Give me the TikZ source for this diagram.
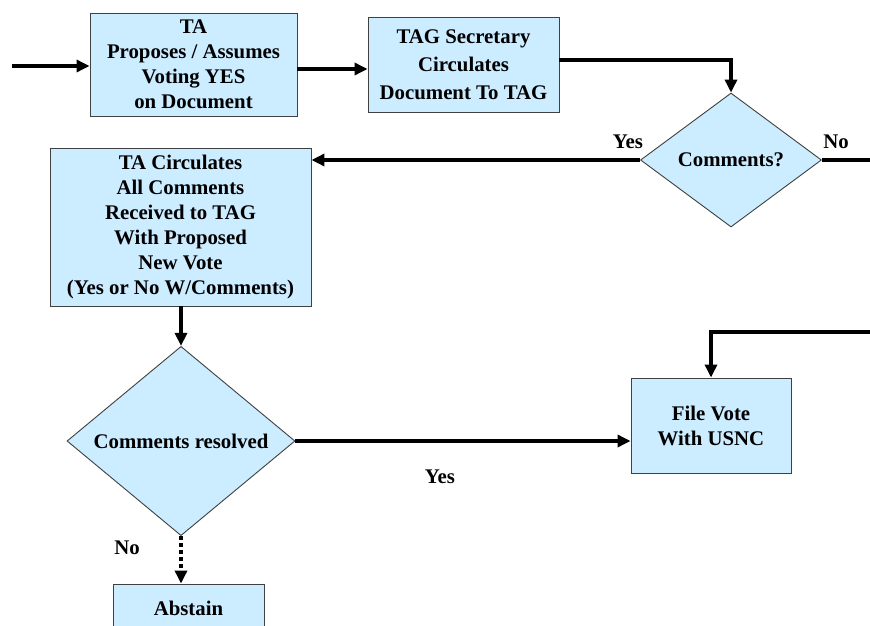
\documentclass[tikz,border=0pt]{standalone}
\usepackage{fontspec}
\setmainfont{Liberation Serif}
\usetikzlibrary{arrows.meta,shapes.geometric,calc}
\definecolor{boxfill}{HTML}{CCECFF}
\definecolor{boxline}{HTML}{404040}
\tikzset{
  flowbox/.style={draw=boxline, line width=0.9pt, fill=boxfill, align=center,
    inner sep=0pt, font=\fontsize{20.8}{25}\selectfont\bfseries},
  decision/.style={diamond, draw=boxline, line width=0.9pt, fill=boxfill, align=center,
    inner sep=0pt, font=\fontsize{20.8}{25}\selectfont\bfseries},
  lbl/.style={inner sep=0pt, font=\fontsize{20.8}{25}\selectfont\bfseries},
  flow/.style={line width=4pt, -{Triangle[length=13pt,width=12pt]}},
  plain/.style={line width=4pt},
  dotflow/.style={line width=4pt, dash pattern=on 4pt off 3pt, -{Triangle[length=13pt,width=12pt]}}
}
\begin{document}
\begin{tikzpicture}[x=1pt,y=-1pt]
\useasboundingbox (0,0) rectangle (870,626);
\clip (0,0) rectangle (870,626);
\fill[white] (0,0) rectangle (870,626);

\node[flowbox, minimum width=207pt, minimum height=103pt] (b1) at (193.5,64.5)
  {TA\\Proposes / Assumes\\Voting YES\\on Document};
\node[flowbox, minimum width=191pt, minimum height=95pt,
  font=\fontsize{20.8}{28.2}\selectfont\bfseries] (b2) at (463.5,64.5)
  {TAG Secretary\\Circulates\\Document To TAG};
\node[decision, minimum width=181pt, minimum height=134pt] (d1) at (731,160) {Comments?};
\node[flowbox, minimum width=261pt, minimum height=158pt] (b3) at (180.5,227)
  {TA Circulates\\All Comments\\Received to TAG\\With Proposed\\New Vote\\(Yes or No W/Comments)};
\node[decision, minimum width=228pt, minimum height=172pt] (d2) at (181,441) {Comments resolved};
\node[flowbox, minimum width=160pt, minimum height=95pt] (b4) at (711,425.5)
  {File Vote\\With USNC};
\node[flowbox, minimum width=151pt, minimum height=48pt] (b5) at (188.5,608) {Abstain};

\node[lbl] (y1) at (628,142) {Yes};
\node[lbl] (n1) at (836,142) {No};
\node[lbl] (y2) at (440,477) {Yes};
\node[lbl] (n2) at (127,548) {No};

\coordinate (start) at (12,66);
\coordinate (noend) at (875,160);
\coordinate (fromright) at (875,332);

\draw[flow] (start) -- (start -| b1.west);
\draw[flow] ([yshift=-4.5pt]b1.east) -- ([yshift=-4.5pt]b2.west);
\draw[flow] ([yshift=4.5pt]b2.east) -| (d1.north);
\draw[flow] (d1.west) -- (d1.west -| b3.east);
\draw[plain] (d1.east) -- (noend);
\draw[flow] (d2.north |- b3.south) -- (d2.north);
\draw[flow] (d2.east) -- (d2.east -| b4.west);
\draw[flow] (fromright) -| (b4.north);
\draw[dotflow] (d2.south) -- (d2.south |- b5.north);
\end{tikzpicture}
\end{document}
